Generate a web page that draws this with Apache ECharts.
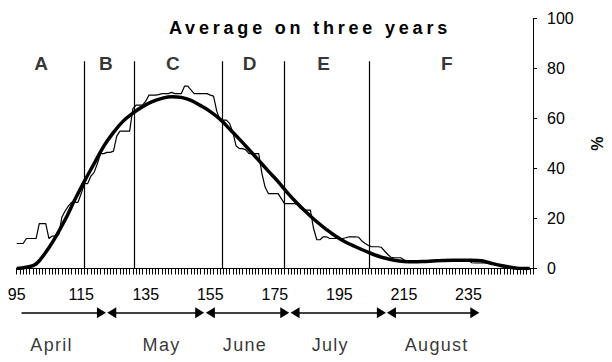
<!DOCTYPE html>
<html>
<head>
<meta charset="utf-8">
<script src="https://cdn.jsdelivr.net/npm/echarts@6/dist/echarts.min.js"></script>
<style>
  html, body { margin: 0; padding: 0; background: #fff; }
  #chart { width: 612px; height: 362px; }
</style>
</head>
<body>
<div id="chart"></div>
<script>
// Daily observed share (%), days of year 95..254
const dayStart = 95;
const observed = [
  10, 10, 10, 12, 12, 12, 12, 18, 18, 18,
  12, 13, 13, 13.5, 20.5, 23, 25, 26.5, 26.5, 26.5,
  30, 34, 34, 37, 38.5, 42, 46, 46, 46.5, 46.5,
  47, 53, 55, 55, 55, 55, 64, 65.4, 65.4, 65.4,
  67, 69.4, 69.4, 69.4, 69.6, 70, 70, 70, 70.5, 70,
  70, 70, 73, 73, 71.5, 70, 70, 70, 70, 70,
  69.4, 69, 63, 59.4, 59.4, 59.4, 58, 54.5, 49, 48,
  48, 47.5, 46, 46, 46, 46, 38, 32.5, 30, 30,
  30, 30, 28, 26, 26, 26, 26, 25.5, 24, 23.5,
  23.4, 23.4, 16, 11.5, 11.5, 12.7, 12.7, 12, 12, 12,
  12, 12, 12.3, 12.7, 12.7, 12.7, 12.5, 11, 10, 9.2,
  8.7, 8.7, 8.7, 8.5, 7, 5.6, 4.5, 4.3, 4.3, 4.3,
  3.5, 2.8, 2.8, 2.8, 2.8, 2.8, 2.8, 2.8, 2.8, 2.8,
  2.8, 2.9, 3.4, 3.5, 3.5, 3.5, 3.5, 3.5, 3.5, 3.5,
  3.4, 2.3, 2.2, 2.2, 2.2, 2.2, 2, 1.8, 1.5, 1.2,
  1, 0.8, 0.6, 0.4, 0.2, 0, 0, 0, 0, 0
];

// Fitted curve
const fitDays = [
  95, 98, 101, 104, 107, 110, 113, 116, 119, 122, 125, 128, 131, 134, 137, 140, 143, 146,
  149, 152, 155, 158, 161, 164, 167, 170, 173, 176, 179, 182, 185, 188, 191, 194, 197, 200,
  203, 206, 209, 212, 215, 218, 221, 224, 227, 230, 233, 236, 239, 242, 245, 248, 251, 254
];
const fitValues = [
  0, 0.5, 1.8, 6.5, 12.5, 19.5, 27.5, 35, 42, 49, 54.5, 59, 62.2, 64.8, 66.8, 68.1, 68.8, 68.5,
  67.3, 65.2, 62.8, 59.8, 55.8, 51.8, 47.6, 43.3, 39, 34.8, 30.2, 26, 22.2, 18.7, 15.6, 12.8, 10.5, 8.7,
  7, 5.4, 4.2, 3.3, 2.8, 2.7, 2.8, 3, 3.2, 3.3, 3.3, 3.3, 3.1, 2.1, 1.2, 0.5, 0, 0
];

// Phase boundaries (day of year) and phase names
const phaseBounds = [115.9, 131.3, 158.6, 178, 204.3];
const phaseNames = ['A', 'B', 'C', 'D', 'E', 'F'];
const phaseNameDays = [102.6, 122.6, 143.4, 167.2, 190.1, 228.3];

// Months under the day axis
const months = ['April', 'May', 'June', 'July', 'August'];
const monthFrom = [96.5, 124.4, 154.9, 181.1, 210.9];
const monthTo = [121.2, 151.6, 177.9, 207.8, 236.7];
const monthLabelDays = [105.8, 139.8, 165.6, 192, 224.9];

const titleText = 'Average on three years';

const FONT = 'Arial, "Liberation Sans", sans-serif';
const chart = echarts.init(document.getElementById('chart'), null, { renderer: 'svg' });

const phaseLineTop = 83;
const phaseLabelLevel = 82.2;

chart.setOption({
  animation: false,
  backgroundColor: '#fff',
  textStyle: { fontFamily: FONT, color: '#000' },
  graphic: [{
    type: 'text',
    x: 310,
    y: 28,
    silent: true,
    style: {
      text: titleText,
      font: 'bold 18px ' + FONT,
      fill: '#000',
      align: 'center',
      verticalAlign: 'middle'
    }
  }],
  grid: [
    { left: 16.7, right: 78, top: 18.7, bottom: 93.5 },
    { left: 16.7, right: 78, top: 300, height: 50 }
  ],
  xAxis: [{
    type: 'value', gridIndex: 0, min: 95, max: 255, interval: 20,
    axisLine: { lineStyle: { color: '#000', width: 1 } },
    axisTick: { show: true, length: 6, lineStyle: { color: '#000', width: 1 } },
    minorTick: { show: true, splitNumber: 20, length: 6, lineStyle: { color: '#000', width: 1 } },
    axisLabel: { fontSize: 16, color: '#000', margin: 18, showMaxLabel: false, fontFamily: FONT },
    splitLine: { show: false },
    minorSplitLine: { show: false }
  }, {
    type: 'value', gridIndex: 1, min: 95, max: 255, show: false
  }],
  yAxis: [{
    type: 'value', gridIndex: 0, position: 'right', min: 0, max: 100, interval: 20,
    axisLine: { show: true, lineStyle: { color: '#000', width: 1 } },
    axisTick: { show: true, length: 4, lineStyle: { color: '#000' } },
    axisLabel: { fontSize: 16, color: '#000', margin: 14, fontFamily: FONT },
    splitLine: { show: false },
    name: '%', nameLocation: 'middle', nameGap: 55, nameRotate: -90,
    nameTextStyle: { fontSize: 16, fontWeight: 'bold', color: '#000', fontFamily: FONT }
  }, {
    type: 'value', gridIndex: 1, min: 0, max: 1, show: false
  }],
  series: [{
    name: 'observed',
    type: 'line',
    xAxisIndex: 0, yAxisIndex: 0,
    data: observed.map((v, i) => [dayStart + i, v]),
    showSymbol: false,
    silent: true,
    lineStyle: { color: '#000', width: 1.2 },
    markLine: {
      silent: true,
      symbol: ['none', 'none'],
      label: { show: false },
      lineStyle: { color: '#000', width: 1.2, type: 'solid' },
      data: phaseBounds.map(d => [{ coord: [d, 0] }, { coord: [d, phaseLineTop] }])
    }
  }, {
    name: 'fit',
    type: 'line',
    xAxisIndex: 0, yAxisIndex: 0,
    data: fitDays.map((d, i) => [d, fitValues[i]]),
    smooth: 0.4,
    showSymbol: false,
    silent: true,
    lineStyle: { color: '#000', width: 3.5 }
  }, {
    name: 'phases',
    type: 'scatter',
    xAxisIndex: 0, yAxisIndex: 0,
    symbolSize: 1,
    itemStyle: { color: 'rgba(0,0,0,0)' },
    silent: true,
    data: phaseNames.map((n, i) => ({ name: n, value: [phaseNameDays[i], phaseLabelLevel] })),
    label: {
      show: true, position: 'inside', formatter: '{b}',
      fontSize: 19, fontWeight: 'bold', color: '#000', fontFamily: FONT
    }
  }, {
    name: 'months',
    type: 'scatter',
    xAxisIndex: 1, yAxisIndex: 1,
    symbolSize: 1,
    itemStyle: { color: 'rgba(0,0,0,0)' },
    silent: true,
    data: months.map((m, i) => ({ name: m, value: [monthLabelDays[i], 0.1] })),
    label: {
      show: true, position: 'inside', formatter: '{b}',
      fontSize: 18, color: '#000', fontFamily: FONT
    },
    markLine: {
      silent: true,
      label: { show: false },
      lineStyle: { color: '#000', width: 1.6, type: 'solid' },
      symbolSize: [11, 9],
      data: months.map((m, i) => [
        { coord: [monthFrom[i], 0.746], symbol: i === 0 ? 'none' : 'triangle' },
        { coord: [monthTo[i], 0.746], symbol: 'triangle' }
      ])
    }
  }]
});

// Letter spacing for the spaced-out texts
const spacing = { [titleText]: 3.8 };
months.forEach(m => { spacing[m] = 1.3; });
function applySpacing() {
  document.querySelectorAll('#chart text').forEach(t => {
    const s = spacing[t.textContent];
    if (s) t.setAttribute('letter-spacing', s);
  });
}
applySpacing();
chart.on('rendered', applySpacing);
chart.on('finished', applySpacing);
</script>
</body>
</html>
